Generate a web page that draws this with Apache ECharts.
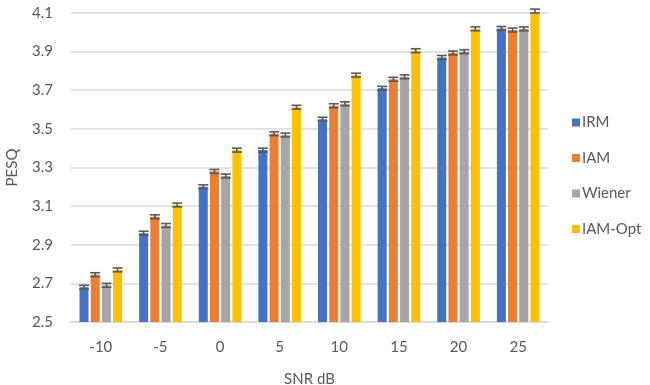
<!DOCTYPE html>
<html>
<head>
<meta charset="utf-8">
<script src="https://cdn.jsdelivr.net/npm/echarts@6/dist/echarts.min.js"></script>
<style>html,body{margin:0;padding:0;background:#fff;}#c{width:650px;height:385px;}</style>
</head>
<body>
<div id="c"></div>
<script>
var categories = ['-10', '-5', '0', '5', '10', '15', '20', '25'];
var seriesNames = ['IRM', 'IAM', 'Wiener', 'IAM-Opt'];
var irm    = [2.68, 2.96, 3.20, 3.39, 3.55, 3.71, 3.87, 4.02];
var iam    = [2.745, 3.045, 3.28, 3.475, 3.62, 3.757, 3.893, 4.012];
var wiener = [2.69, 3.00, 3.256, 3.468, 3.63, 3.77, 3.90, 4.018];
var iamOpt = [2.77, 3.106, 3.39, 3.612, 3.778, 3.905, 4.018, 4.11];
var irmErr    = [0.01, 0.01, 0.01, 0.01, 0.01, 0.01, 0.01, 0.01];
var iamErr    = [0.01, 0.01, 0.01, 0.01, 0.01, 0.01, 0.01, 0.01];
var wienerErr = [0.01, 0.01, 0.01, 0.01, 0.01, 0.01, 0.01, 0.01];
var iamOptErr = [0.01, 0.01, 0.01, 0.01, 0.01, 0.01, 0.01, 0.01];
var yTicks = [2.5, 4.1, 0.2];

var values = [irm, iam, wiener, iamOpt];
var errs = [irmErr, iamErr, wienerErr, iamOptErr];
var colors = ['#4472C4', '#ED7D31', '#A5A5A5', '#FFC000'];
var FONT = 'Lato';
var BAR_W = 9, GAP = 2.2;

var series = [];
values.forEach(function (v, i) {
  series.push({
    name: seriesNames[i], type: 'bar', data: v, barWidth: BAR_W, barGap: (GAP / BAR_W * 100) + '%',
    itemStyle: { color: colors[i] }
  });
});
values.forEach(function (v, i) {
  var d = v.map(function (val, k) { return [k, val, errs[i][k]]; });
  series.push({
    type: 'custom', silent: true, z: 10,
    data: d,
    renderItem: function (params, api) {
      var k = api.value(0), val = api.value(1), e = api.value(2);
      var total = 4 * BAR_W + 3 * GAP;
      var off = -total / 2 + BAR_W / 2 + i * (BAR_W + GAP);
      var hi = api.coord([k, val + e]);
      var lo = api.coord([k, val - e]);
      var x = hi[0] + off;
      var cw = 5;
      var st = { stroke: '#595959', lineWidth: 1.6 };
      return { type: 'group', children: [
        { type: 'line', shape: { x1: x, y1: hi[1], x2: x, y2: lo[1] }, style: st },
        { type: 'line', shape: { x1: x - cw, y1: hi[1], x2: x + cw, y2: hi[1] }, style: st },
        { type: 'line', shape: { x1: x - cw, y1: lo[1], x2: x + cw, y2: lo[1] }, style: st }
      ]};
    }
  });
});

var chart = echarts.init(document.getElementById('c'), null, { renderer: 'canvas' });
chart.setOption({
  animation: false,
  textStyle: { fontFamily: FONT },
  grid: { left: 71, right: 102, top: 13, bottom: 63, containLabel: false, outerBoundsMode: 'none' },
  legend: {
    data: seriesNames, orient: 'vertical', left: 567, top: 110,
    itemWidth: 8, itemHeight: 8, itemGap: 20.5, icon: 'rect',
    textStyle: { fontFamily: FONT, fontSize: 15, color: '#595959', padding: [0, 0, 0, -3] }
  },
  xAxis: {
    type: 'category', data: categories,
    name: 'SNR dB', nameLocation: 'middle', nameGap: 50,
    nameTextStyle: { fontFamily: FONT, fontSize: 15, color: '#595959' },
    axisLine: { lineStyle: { color: '#d9d9d9', width: 1.5 } },
    axisTick: { show: false },
    axisLabel: { fontFamily: FONT, fontSize: 15, color: '#595959', margin: 18 }
  },
  yAxis: {
    type: 'value', min: yTicks[0], max: yTicks[1], interval: yTicks[2],
    name: 'PESQ', nameLocation: 'middle', nameGap: 51, nameRotate: 90,
    nameTextStyle: { fontFamily: FONT, fontSize: 15, color: '#595959' },
    axisLine: { show: false }, axisTick: { show: false },
    splitLine: { lineStyle: { color: '#d9d9d9', width: 1.5 } },
    axisLabel: { fontFamily: FONT, fontSize: 15, color: '#595959', margin: 18,
      formatter: function (v) { return v.toFixed(1); } }
  },
  series: series
});
</script>
</body>
</html>
